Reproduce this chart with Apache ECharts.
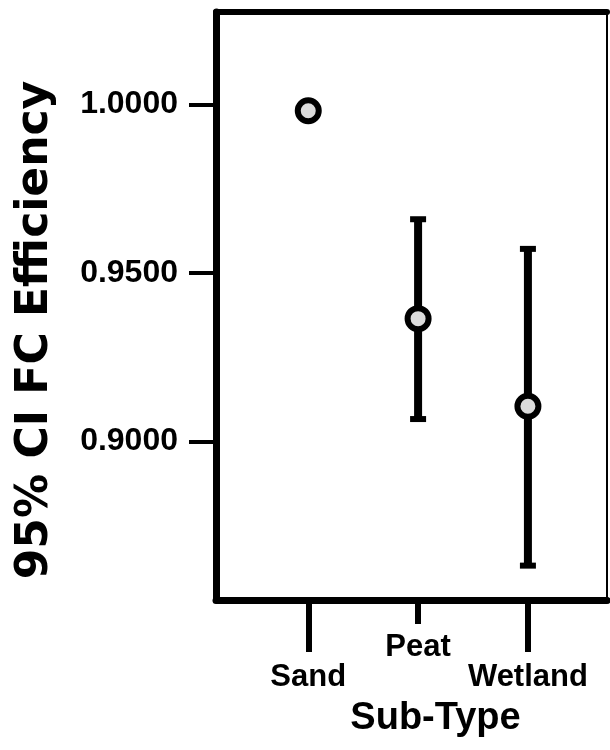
<!DOCTYPE html>
<html>
<head>
<meta charset="utf-8">
<script src="https://cdn.jsdelivr.net/npm/echarts@6/dist/echarts.min.js"></script>
<style>
  html, body { margin: 0; padding: 0; background: #fff; }
  #chart { width: 610px; height: 750px; }
</style>
</head>
<body>
<div id="chart"></div>
<script>
// ---- data ----
const categories = ['Sand', 'Peat', 'Wetland'];
const means = [0.9982, 0.9365, 0.9105];
const lowerCI = [0.9982, 0.9067, 0.8632];
const upperCI = [0.9982, 0.9660, 0.9572];
const yTickValues = [0.90, 0.95, 1.00];
const xTickOuter = [1, 3];   // Sand, Wetland (lower labels)
const xTickInner = [2];      // Peat (upper label)

const xMin = 0.16, xMax = 3.72;
const yMin = 0.853, yMax = 1.0275;

const chart = echarts.init(document.getElementById('chart'), null, { renderer: 'canvas' });

const labelFont = { fontFamily: 'Liberation Sans, Arial, sans-serif', fontWeight: 'bold', fontSize: 31, color: '#000' };

const meanData = categories.map((c, i) => [i + 1, means[i]]);
const ciData = categories.map((c, i) => [i + 1, lowerCI[i], upperCI[i]]);

const option = {
  animation: false,
  backgroundColor: '#fff',
  grid: {
    left: 216, right: 3, top: 12, bottom: 150,
    show: true, borderColor: '#000', borderWidth: 2, backgroundColor: 'transparent'
  },
  xAxis: [
    {
      type: 'value', min: xMin, max: xMax, position: 'bottom',
      axisLine: { show: true, onZero: false, lineStyle: { color: '#000', width: 7 } },
      axisTick: { show: true, customValues: xTickOuter, length: 52, lineStyle: { color: '#000', width: 6 } },
      axisLabel: { customValues: xTickOuter, formatter: v => categories[Math.round(v) - 1], margin: 62, ...labelFont },
      splitLine: { show: false },
      name: 'Sub-Type', nameLocation: 'middle', nameGap: 100,
      nameTextStyle: { fontFamily: 'Liberation Sans, Arial, sans-serif', fontWeight: 'bold', fontSize: 38, color: '#000', padding: [0, 0, 0, 48] }
    },
    {
      type: 'value', min: xMin, max: xMax, position: 'bottom',
      axisLine: { show: false, onZero: false },
      axisTick: { show: true, customValues: xTickInner, length: 24, lineStyle: { color: '#000', width: 6 } },
      axisLabel: { customValues: xTickInner, formatter: v => categories[Math.round(v) - 1], margin: 32, ...labelFont },
      splitLine: { show: false }
    },
    {
      type: 'value', min: xMin, max: xMax, position: 'top',
      axisLine: { show: true, onZero: false, lineStyle: { color: '#000', width: 6 } },
      axisTick: { show: false }, axisLabel: { show: false }, splitLine: { show: false }
    }
  ],
  yAxis: {
    type: 'value', min: yMin, max: yMax, position: 'left',
    axisLine: { show: true, onZero: false, lineStyle: { color: '#000', width: 7 } },
    axisTick: { show: true, customValues: yTickValues, length: 27, lineStyle: { color: '#000', width: 4 } },
    axisLabel: { customValues: yTickValues, formatter: v => v.toFixed(4), margin: 38, ...labelFont, fontSize: 32 },
    splitLine: { show: false },
    name: '95% CI FC Efficiency', nameLocation: 'middle', nameRotate: 90, nameGap: 158,
    nameTextStyle: { fontFamily: 'DejaVu Sans, sans-serif', fontWeight: 'bold', fontSize: 44, color: '#000', padding: [0, 48, 0, 0] }
  },
  series: [
    {
      type: 'custom',
      xAxisIndex: 0,
      data: ciData,
      z: 2,
      renderItem: function (params, api) {
        const x = api.value(0), lo = api.value(1), hi = api.value(2);
        if (hi - lo < 1e-9) return { type: 'group', children: [] };
        const pLo = api.coord([x, lo]);
        const pHi = api.coord([x, hi]);
        const capW = 8;
        const style = { stroke: '#000', lineWidth: 8, fill: null };
        const capStyle = { stroke: '#000', lineWidth: 6, fill: null };
        return {
          type: 'group',
          children: [
            { type: 'line', shape: { x1: pLo[0], y1: pLo[1], x2: pHi[0], y2: pHi[1] }, style: style },
            { type: 'line', shape: { x1: pHi[0] - capW, y1: pHi[1], x2: pHi[0] + capW, y2: pHi[1] }, style: capStyle },
            { type: 'line', shape: { x1: pLo[0] - capW, y1: pLo[1], x2: pLo[0] + capW, y2: pLo[1] }, style: capStyle }
          ]
        };
      }
    },
    {
      type: 'scatter',
      xAxisIndex: 0,
      data: meanData,
      z: 5,
      symbol: 'circle',
      symbolSize: 21,
      itemStyle: { color: '#dcdcdc', borderColor: '#000', borderWidth: 6, opacity: 1 }
    }
  ]
};

chart.setOption(option);
</script>
</body>
</html>
